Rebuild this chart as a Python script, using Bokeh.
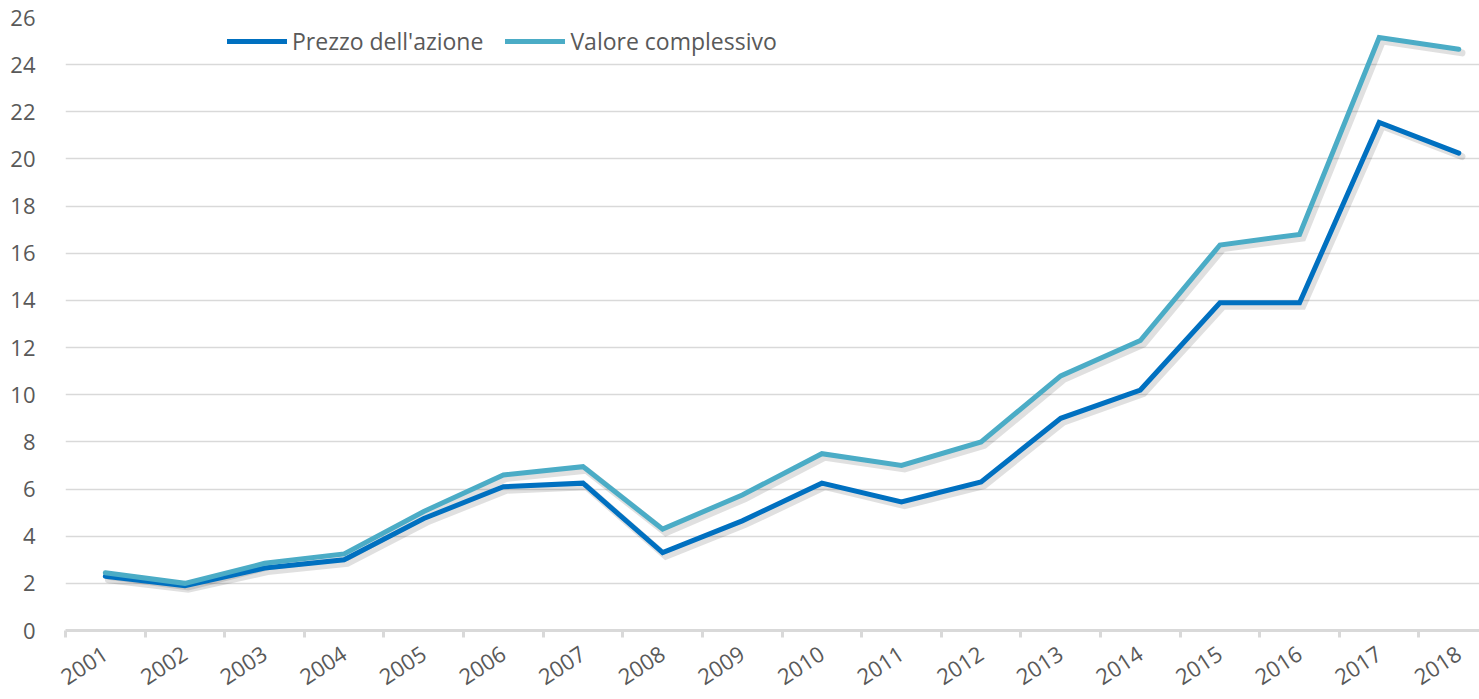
from bokeh.plotting import figure
from bokeh.models import Range1d, FixedTicker, Legend, LegendItem
from bokeh.embed import file_html
from bokeh.resources import INLINE

years = ["2001", "2002", "2003", "2004", "2005", "2006", "2007", "2008", "2009",
         "2010", "2011", "2012", "2013", "2014", "2015", "2016", "2017", "2018"]
prezzo = [2.3, 1.9, 2.65, 3.0, 4.75, 6.1, 6.25, 3.3, 4.65,
          6.25, 5.45, 6.3, 9.0, 10.2, 13.9, 13.9, 21.55, 20.25]
valore = [2.45, 2.0, 2.85, 3.25, 5.05, 6.6, 6.95, 4.3, 5.75,
          7.5, 7.0, 8.0, 10.8, 12.3, 16.35, 16.8, 25.15, 24.65]
y_ticks = list(range(0, 27, 2))

xs = list(range(len(years)))
FONT = "Open Sans"
TXT = "#595959"
GRID = "#D9D9D9"

p = figure(width=1479, height=699, output_backend="svg", toolbar_location=None,
           x_range=Range1d(-0.5, 17.26), y_range=Range1d(0, 26),
           min_border_left=65, min_border_right=0, min_border_top=17, min_border_bottom=10)
p.frame_width = 1414
p.frame_height = 613
p.outline_line_color = None
p.background_fill_color = "white"
p.border_fill_color = "white"

# x axis
p.xaxis.ticker = FixedTicker(ticks=xs, minor_ticks=[i - 0.5 for i in range(len(years) + 1)])
p.xaxis.major_label_overrides = {i: y for i, y in enumerate(years)}
p.xaxis.major_tick_line_color = None
p.xaxis.minor_tick_line_color = GRID
p.xaxis.minor_tick_line_width = 3
p.xaxis.minor_tick_out = 7
p.xaxis.minor_tick_in = 0
p.xaxis.axis_line_color = GRID
p.xaxis.axis_line_width = 3
p.xaxis.major_label_orientation = 0.58
p.xaxis.major_label_text_font = FONT
p.xaxis.major_label_text_font_size = "22px"
p.xaxis.major_label_text_color = TXT
p.xaxis.major_label_standoff = 14
p.xgrid.grid_line_color = None

# y axis
p.yaxis.ticker = FixedTicker(ticks=y_ticks)
p.yaxis.axis_line_color = None
p.yaxis.major_tick_line_color = None
p.yaxis.minor_tick_line_color = None
p.yaxis.major_label_text_font = FONT
p.yaxis.major_label_text_font_size = "22px"
p.yaxis.major_label_text_color = TXT
p.yaxis.major_label_standoff = 24
p.ygrid.ticker = FixedTicker(ticks=y_ticks[1:])
p.ygrid.grid_line_color = GRID
p.ygrid.grid_line_width = 1.5

# soft shadows
for ser in (prezzo, valore):
    p.line([x + 0.04 for x in xs], [v - 0.15 for v in ser], line_color="#000000",
           line_alpha=0.12, line_width=7, line_join="miter", line_cap="round")

r1 = p.line(xs, prezzo, line_color="#0070C0", line_width=5, line_join="miter", line_cap="round")
r2 = p.line(xs, valore, line_color="#4BACC6", line_width=5, line_join="miter", line_cap="round")

legend = Legend(items=[LegendItem(label="Prezzo dell'azione", renderers=[r1]),
                       LegendItem(label="Valore complessivo", renderers=[r2])],
                orientation="horizontal", location=(162, 573),
                glyph_width=60, glyph_height=20, label_height=20, label_standoff=5,
                spacing=22, padding=0, margin=0,
                label_text_font=FONT, label_text_font_size="23px", label_text_color=TXT,
                background_fill_alpha=0, border_line_color=None)
p.add_layout(legend, "center")

open("out.html", "w").write(file_html(p, INLINE))
